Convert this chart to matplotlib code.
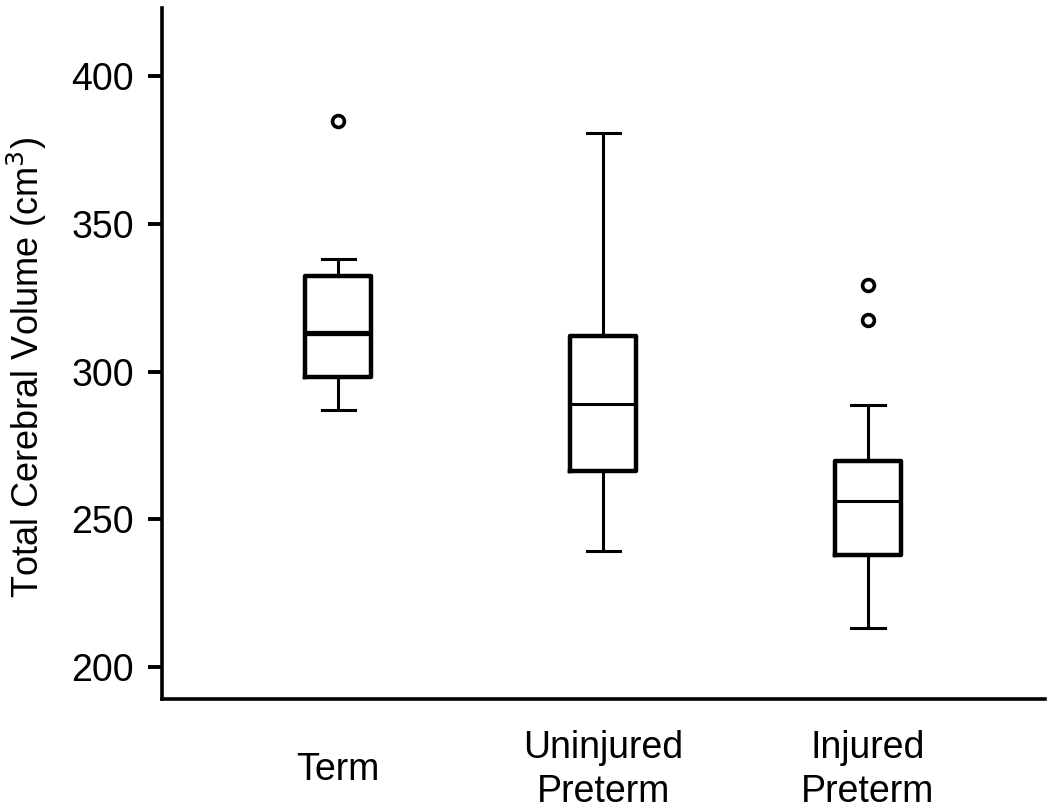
import matplotlib
matplotlib.use("Agg")
import matplotlib.pyplot as plt

plt.rcParams['font.family'] = ['Liberation Sans', 'DejaVu Sans']

# group labels and box statistics (cm^3)
groups = ["Term", "Uninjured\nPreterm", "Injured\nPreterm"]
whislo = [287.0, 239.3, 213.2]
q1 = [298.1, 266.3, 237.9]
med = [313.0, 289.0, 256.2]
q3 = [332.3, 312.0, 269.8]
whishi = [338.1, 380.7, 288.7]
fliers = [[384.8], [], [329.3, 317.4]]

stats = []
for i in range(len(groups)):
    stats.append(dict(whislo=whislo[i], q1=q1[i], med=med[i], q3=q3[i],
                      whishi=whishi[i], fliers=fliers[i], label=groups[i]))

fig = plt.figure(figsize=(10.5, 8.09), dpi=100)
ax = fig.add_axes([0.1543, 0.136, 0.8409, 0.854])

positions = [1, 2, 3]
bp = ax.bxp(stats, positions=positions, widths=0.25, capwidths=0.125,
            boxprops=dict(linewidth=3.2, color='black'),
            whiskerprops=dict(linewidth=2.2, color='black'),
            capprops=dict(linewidth=2.2, color='black'),
            medianprops=dict(linewidth=2.2, color='black'),
            flierprops=dict(marker='o', markersize=8.5, markerfacecolor='white',
                            markeredgecolor='black', markeredgewidth=2.6))
# Term median is drawn heavier
bp['medians'][0].set_linewidth(3.8)

ax.set_xlim(0.335, 3.668)
ax.set_ylim(189.2, 423.0)
ax.set_yticks([200, 250, 300, 350, 400])

ax.spines['top'].set_visible(False)
ax.spines['right'].set_visible(False)
ax.spines['left'].set_linewidth(2.6)
ax.spines['bottom'].set_linewidth(2.6)

ax.tick_params(axis='y', length=10, width=2.8, pad=10, labelsize=27)
ax.tick_params(axis='x', length=0, pad=51, labelsize=27)
ax.set_xticks(positions)
ax.set_xticklabels(groups, linespacing=1.3)
for t in ax.get_xticklabels():
    t.set_verticalalignment('center')

ax.set_ylabel("Total Cerebral Volume (cm$^3$)", fontsize=26)
ax.yaxis.set_label_coords(-0.128, 0.48)

fig.savefig("out.png", dpi=100)
